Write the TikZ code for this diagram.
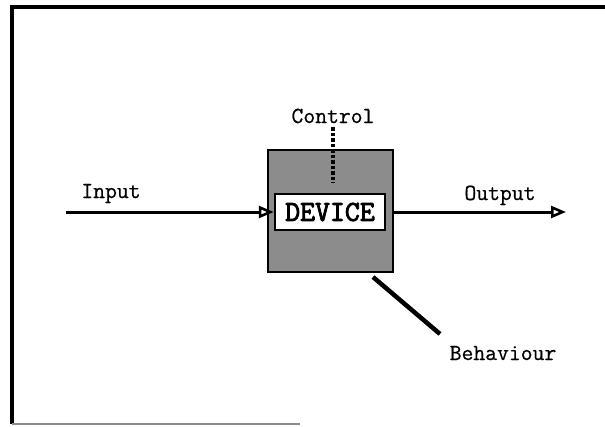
\documentclass[tikz,border=0pt]{standalone}
\usepackage{fontspec}
\newfontfamily\lblfont{Latin Modern Mono}[FakeBold=0.6]
\newfontfamily\devfont{Latin Modern Mono}[FakeBold=3]
\usetikzlibrary{arrows.meta}
\begin{document}
\begin{tikzpicture}[x=1pt,y=-1pt,
  lbl/.style={font=\lblfont\fontsize{23}{23}\selectfont, inner sep=0pt, anchor=base},
  flow/.style={line width=3pt, -{Triangle[open,length=15pt,width=12pt,line width=2.6pt]}},
]
\useasboundingbox (0,0) rectangle (605,426);
% frame
\draw[line width=3.5pt] (605,7) -- (12,7) -- (12,424);
\draw[line width=1.4pt, black!45] (12,424) -- (300,424);
% device
\node[draw, line width=2.5pt, fill=black!45, minimum width=125pt, minimum height=122pt, inner sep=0pt] (dev) at (330.5,211) {};
\node[draw, line width=2.5pt, fill=white, minimum width=110pt, minimum height=36pt, inner sep=0pt,
  font=\devfont\fontsize{29}{29}\selectfont] (devlbl) at (330,212) {DEVICE};
% control
\node[lbl] (ctl) at (333,123) {Control};
\coordinate (ctlb) at (333,183);
\draw[line width=4.5pt, dash pattern=on 3.5pt off 2pt] (ctl.south) ++(0,4) -- (ctlb);
% input
\coordinate (in0) at (66,212);
\node[lbl] (inl) at (111,198) {Input};
\draw[flow] (in0) -- (devlbl.west);
% output
\coordinate (out1) at (566,212);
\node[lbl] (outl) at (500,200) {Output};
\draw[flow] (dev.east |- devlbl.east) -- (out1);
% behaviour
\coordinate (beh) at (440,334);
\node[lbl] (behl) at (503,360) {Behaviour};
\draw[line width=4.5pt] (373,277) -- (beh);
\end{tikzpicture}
\end{document}
